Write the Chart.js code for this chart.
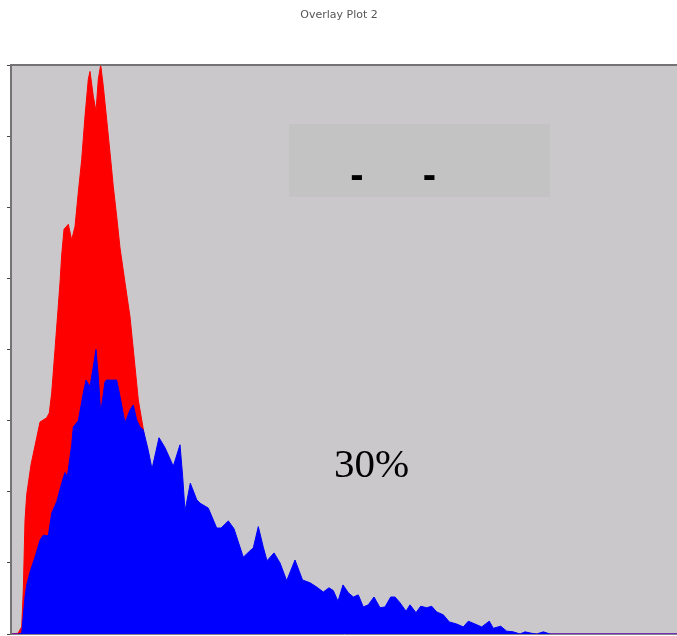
<!DOCTYPE html>
<html>
<head>
<meta charset="utf-8">
<title>Overlay Plot 2</title>
<script src="https://cdn.jsdelivr.net/npm/chart.js@4/dist/chart.umd.min.js"></script>
<style>
  html, body { margin: 0; padding: 0; background: #ffffff; }
  #wrap { width: 677px; height: 636px; position: relative; }
  canvas { display: block; }
</style>
</head>
<body>
<div id="wrap"><canvas id="plot" width="677" height="636"></canvas></div>
<script>
// Histogram channels and event counts for the two overlaid samples
const redChannels = [0, 7, 10.7, 12.3, 14, 15.7, 20, 25.7, 29, 35.7, 38.3, 40.7, 44, 47, 49, 50.7, 53, 57.3, 60.7, 64, 67.3, 70.7, 74, 77.3, 79, 82.3, 85, 87.3, 89.7, 92.3, 95.7, 99, 102.3, 105.7, 109, 114, 119, 124, 127.3, 132.3, 137, 144, 154, 169, 189, 219, 249, 289, 339, 666];
const redCounts   = [0, 1, 10, 62, 160, 196, 238, 276, 298, 304, 311, 339, 400, 456, 494, 533, 569, 576, 554, 573, 621, 667, 728, 780, 791, 756, 735, 780, 800, 770, 723, 677, 629, 587, 543, 494, 446, 376, 329, 288, 231, 160, 104, 62, 34, 13, 4, 1, 0, 0];

const blueChannels = [0, 7, 10.7, 14, 15.7, 19, 24, 29, 32.3, 37.3, 40.7, 45.7, 50.7, 54, 56.3, 59, 60.7, 62.3, 67.3, 72.3, 75, 79, 82.3, 85, 87.3, 89.7, 94, 95.7, 105.7, 109, 114, 119, 122.3, 125.7, 129, 132.3, 137.3, 141, 148, 154, 162.3, 169, 171.7, 174, 179.3, 185.7, 189, 197.3, 205.7, 210, 217.3, 223, 232.3, 239, 242.3, 247.3, 252.3, 256, 263, 269, 275.7, 284, 291.5, 299, 305.7, 312.3, 318, 322.3, 327, 332, 337.3, 342.3, 347.3, 352.3, 357.3, 363, 369, 374, 379.7, 384, 389, 395, 399, 405, 409.7, 415.7, 420.7, 425.7, 432.3, 438.3, 445.7, 452.3, 457.3, 464, 470.7, 478.3, 482.3, 489.7, 495.7, 502.3, 509, 514, 520.7, 525.7, 532.3, 539, 666];
const blueCounts   = [0, 0, 1, 52, 69, 87, 108, 132, 139, 138, 170, 186, 212, 227, 221, 249, 266, 291, 300, 339, 357, 348, 376, 400, 362, 311, 355, 357, 357, 334, 297, 315, 322, 301, 291, 287, 258, 232, 276, 262, 236, 266, 221, 173, 212, 189, 184, 177, 149, 149, 159, 148, 108, 117, 121, 151, 122, 103, 114, 100, 75, 104, 76, 72, 66, 59, 65, 61, 46, 69, 58, 52, 55, 38, 41, 52, 37, 38, 52, 52, 44, 32, 41, 30, 39, 37, 39, 31, 27, 17, 14, 10, 18, 14, 10, 18, 8, 11, 4, 3, 0, 3, 1, 0, 3, 0, 0];

// Axis extents and tick spacing
const channelMax = 666;
const countMax = 800;
const countStep = 100;

const titleText = 'Overlay Plot 2';
const legendMarks = ['-', '-'];
const percentLabel = '30%';

const toPoints = (xs, ys) => xs.map((x, i) => ({ x: x, y: ys[i] }));

// Plot panel: grey background, frame, legend box and annotation
const panelPlugin = {
  id: 'panel',
  beforeDraw(chart) {
    const { ctx, chartArea: a } = chart;
    ctx.save();
    ctx.fillStyle = '#cbc8cc';
    ctx.fillRect(a.left, a.top, a.right - a.left, a.bottom - a.top);
    ctx.restore();
  },
  afterDraw(chart) {
    const { ctx, chartArea: a } = chart;
    ctx.save();
    // frame (left and top edges)
    ctx.strokeStyle = '#737373';
    ctx.lineWidth = 2;
    ctx.beginPath();
    ctx.moveTo(a.left, a.bottom);
    ctx.lineTo(a.left, a.top);
    ctx.lineTo(a.right, a.top);
    ctx.stroke();

    // title
    ctx.fillStyle = '#555555';
    ctx.font = '11px "DejaVu Sans", sans-serif';
    ctx.textAlign = 'center';
    ctx.textBaseline = 'middle';
    ctx.fillText(titleText, 339, 15);

    // legend box
    ctx.fillStyle = '#c3c3c3';
    ctx.fillRect(289, 124, 261, 73);
    ctx.fillStyle = '#000000';
    ctx.font = 'bold 40px "Liberation Sans", Arial, sans-serif';
    ctx.textAlign = 'center';
    ctx.textBaseline = 'alphabetic';
    ctx.fillText(legendMarks[0], 357, 188);
    ctx.fillText(legendMarks[1], 429.5, 188);

    // percentage annotation
    ctx.font = '41px "Liberation Serif", "Times New Roman", serif';
    ctx.textAlign = 'left';
    ctx.fillText(percentLabel, 334, 477);
    ctx.restore();
  }
};

new Chart(document.getElementById('plot'), {
  type: 'line',
  data: {
    datasets: [
      {
        label: 'blue',
        data: toPoints(blueChannels, blueCounts),
        borderColor: '#0000ff',
        backgroundColor: '#0000ff',
        borderWidth: 1,
        fill: 'origin',
        pointRadius: 0,
        tension: 0,
        order: 0
      },
      {
        label: 'red',
        data: toPoints(redChannels, redCounts),
        borderColor: '#ff0000',
        backgroundColor: '#ff0000',
        borderWidth: 1,
        fill: 'origin',
        pointRadius: 0,
        tension: 0,
        order: 1
      }
    ]
  },
  options: {
    responsive: false,
    animation: false,
    events: [],
    layout: { padding: { top: 65, left: 7, right: 0, bottom: 2 } },
    plugins: {
      legend: { display: false },
      title: { display: false },
      tooltip: { enabled: false }
    },
    scales: {
      x: {
        type: 'linear',
        min: 0,
        max: channelMax,
        ticks: { display: false },
        grid: { display: false, drawTicks: false },
        border: { display: true, color: '#8a7d8e', width: 1 }
      },
      y: {
        type: 'linear',
        min: 0,
        max: countMax,
        ticks: { display: false, stepSize: countStep },
        grid: { drawOnChartArea: false, drawTicks: true, tickLength: 4, color: '#444444', lineWidth: 1 },
        border: { display: true, color: '#737373', width: 2 }
      }
    }
  },
  plugins: [panelPlugin]
});
</script>
</body>
</html>
